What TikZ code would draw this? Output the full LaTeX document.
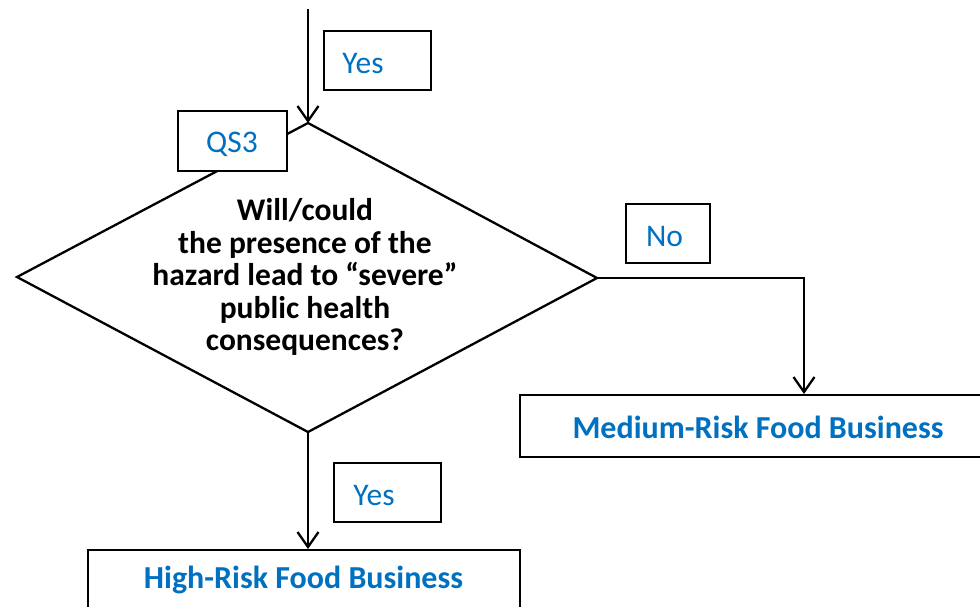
\documentclass[tikz,border=0pt]{standalone}
\usepackage{fontspec}
\setmainfont{Carlito}
\usetikzlibrary{arrows.meta}
\definecolor{txtblue}{RGB}{0,112,192}
\begin{document}
\begin{tikzpicture}[x=1pt,y=-1pt,
  line width=2.3pt,
  arr/.style={-{Straight Barb[length=15pt,width=21pt,line width=2.3pt]}},
  lbox/.style={draw=black,line width=2pt},
  lbl/.style={text=txtblue,font=\fontsize{31.5}{36}\selectfont,inner sep=0pt},
  res/.style={text=txtblue,font=\fontsize{32}{38}\selectfont\bfseries,inner sep=0pt},
  q/.style={font=\fontsize{31.5}{32.5}\selectfont\bfseries,align=center,inner sep=0pt}]
\useasboundingbox (0,0) rectangle (980,606);
% diamond
\coordinate (dtop) at (308,123);
\coordinate (dleft) at (17,277);
\coordinate (dright) at (597,278);
\coordinate (dbot) at (308,432);
\draw (dtop) -- (dright) -- (dbot) -- (dleft) -- cycle;
\node[q] (qtext) at (305,277) {Will/could\\the presence of the\\hazard lead to “severe”\\public health\\consequences?};
% incoming arrow
\coordinate (start) at (308,9);
\draw[arr] (start) -- (dtop);
% boxes
\draw[lbox] (324,31) rectangle (431,90);
\node[lbl] (yes1) at (363,64) {Yes};
\draw[lbox,fill=white] (178,111) rectangle (287,171);
\node[lbl] (qs3) at (232,144) {QS3};
\draw[lbox] (626,204) rectangle (710,263);
\node[lbl] (no) at (664.5,236) {No};
\draw[lbox] (334,463) rectangle (441,522);
\node[lbl] (yes2) at (374,496) {Yes};
% result boxes
\node[draw,line width=2pt,minimum width=472pt,minimum height=62pt,anchor=north west,inner sep=0pt] (med) at (519,394) {};
\node[res] (medtext) at (758,427) {Medium-Risk Food Business};
\node[draw,line width=2pt,minimum width=432pt,minimum height=80pt,anchor=north west,inner sep=0pt] (high) at (87,549) {};
\node[res] (hightext) at (303.5,580) {High-Risk Food Business};
% connectors
\coordinate (corner) at (804,278);
\draw[arr] (dright) -- (corner) -- (corner |- med.north);
\draw[arr] (dbot) -- (dbot |- high.north);
\end{tikzpicture}
\end{document}
